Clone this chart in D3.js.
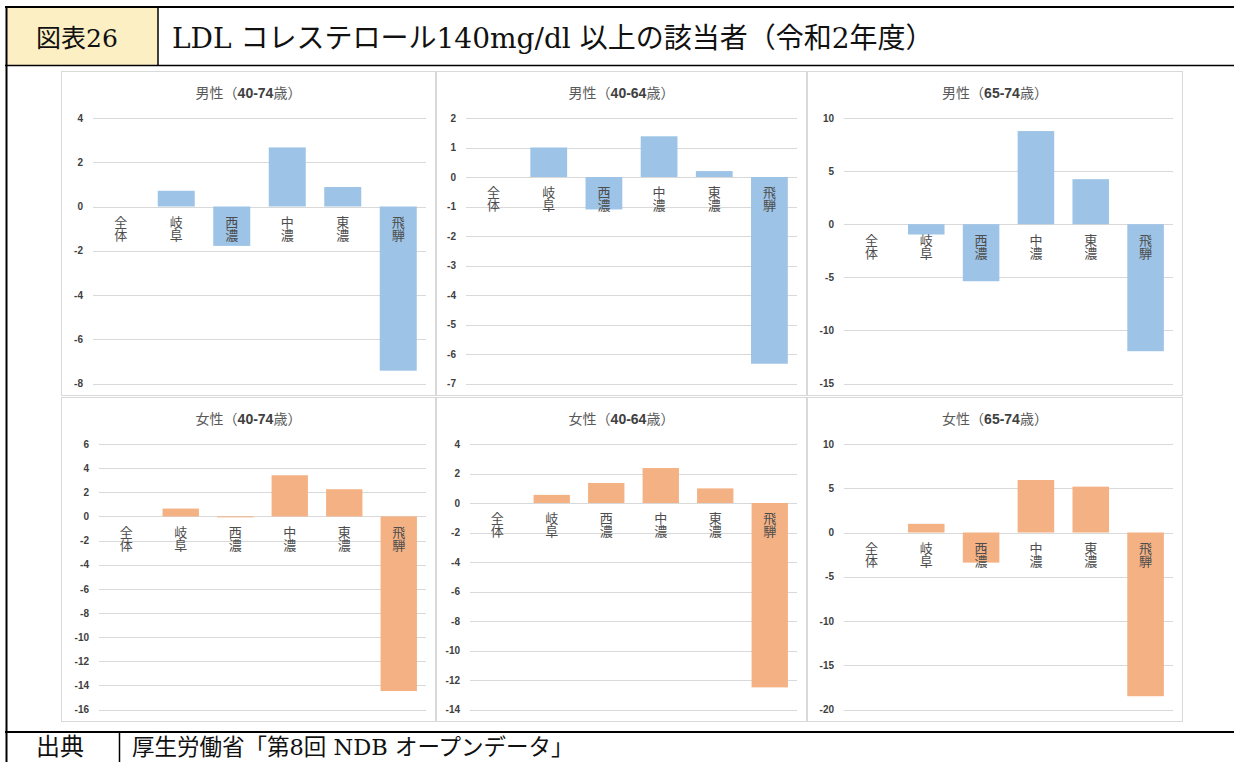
<!DOCTYPE html>
<html><head><meta charset="utf-8">
<script src="https://cdn.jsdelivr.net/npm/d3@7"></script>
<style>body{margin:0;background:#fff}</style>
</head><body>
<svg id="c" width="1234" height="762"></svg>
<script>
// ---------- data ----------
const categories = ["全体", "岐阜", "西濃", "中濃", "東濃", "飛騨"];
const panelTitles = ["男性（40-74歳）", "男性（40-64歳）", "男性（65-74歳）",
                     "女性（40-74歳）", "女性（40-64歳）", "女性（65-74歳）"];
const male4074   = [0, 0.71, -1.78, 2.67, 0.88, -7.42];
const male4064   = [0, 1.0, -1.1, 1.38, 0.2, -6.33];
const male6574   = [0, -0.97, -5.37, 8.77, 4.24, -11.96];
const female4074 = [0, 0.65, -0.08, 3.41, 2.25, -14.47];
const female4064 = [0, 0.55, 1.36, 2.37, 0.99, -12.5];
const female6574 = [0, 0.98, -3.4, 5.93, 5.18, -18.5];
const yDomains   = [[-8, 4], [-7, 2], [-15, 10], [-16, 6], [-14, 4], [-20, 10]];
const yTickSteps = [2, 1, 5, 2, 2, 5];
const headerLabel = "図表26";
const headerTitle = "LDL コレステロール140mg/dl 以上の該当者（令和2年度）";
const sourceLabel = "出典";
const sourceText  = "厚生労働省「第8回 NDB オープンデータ」";

const seriesList = [male4074, male4064, male6574, female4074, female4064, female6574];
const barColors = ["#9DC3E6", "#9DC3E6", "#9DC3E6", "#F4B183", "#F4B183", "#F4B183"];

// ---------- layout ----------
const svg = d3.select("#c");
const W = 1234, H = 762;
const jpFont = "'DejaVu Serif', 'Noto Sans CJK JP', serif";
const cjk = "'Noto Sans CJK JP', sans-serif";

// header / footer frame
svg.append("rect").attr("x", 7).attr("y", 8).attr("width", 151).attr("height", 57).attr("fill", "#FCEFC4");
const frame = svg.append("g").attr("stroke", "#000").attr("fill", "none");
frame.append("line").attr("x1", 5).attr("x2", W).attr("y1", 7).attr("y2", 7).attr("stroke-width", 2);
frame.append("line").attr("x1", 5).attr("x2", W).attr("y1", 65.5).attr("y2", 65.5).attr("stroke-width", 1.5);
frame.append("line").attr("x1", 6.5).attr("x2", 6.5).attr("y1", 6).attr("y2", H).attr("stroke-width", 2);
frame.append("line").attr("x1", 158).attr("x2", 158).attr("y1", 7).attr("y2", 66).attr("stroke-width", 1.5);
frame.append("line").attr("x1", 5).attr("x2", W).attr("y1", 732).attr("y2", 732).attr("stroke-width", 2);
frame.append("line").attr("x1", 119.5).attr("x2", 119.5).attr("y1", 732).attr("y2", H).attr("stroke-width", 1.5);

svg.append("text").attr("x", 36).attr("y", 47).attr("font-family", jpFont).attr("font-size", 25)
  .attr("fill", "#111").text(headerLabel);
svg.append("text").attr("x", 172).attr("y", 48).attr("font-family", jpFont).attr("font-size", 28)
  .attr("fill", "#111").text(headerTitle);
svg.append("text").attr("x", 36).attr("y", 755).attr("font-family", jpFont).attr("font-size", 24)
  .attr("fill", "#111").text(sourceLabel);
svg.append("text").attr("x", 132).attr("y", 755).attr("font-family", jpFont).attr("font-size", 22.5)
  .attr("fill", "#111").text(sourceText);

// panels
const panelX = [61, 436, 807], panelR = [436, 807, 1183];
const panelY = [71, 397], panelB = [396, 722];
const plotLeftOff = [32, 30, 37, 38, 34, 37];

seriesList.forEach((vals, i) => {
  const col = i % 3, row = Math.floor(i / 3);
  const px = panelX[col], py = panelY[row];
  const pw = panelR[col] - px, ph = panelB[row] - py;
  const g = svg.append("g");
  g.append("rect").attr("x", px + 0.5).attr("y", py + 0.5).attr("width", pw - 1).attr("height", ph - 1)
    .attr("fill", "#fff").attr("stroke", "#D9D9D9");

  const left = px + plotLeftOff[i], right = panelR[col] - 10;
  const top = py + 47, bottom = py + 312.5;
  const x = d3.scaleBand().domain(categories).range([left, right]).paddingInner(1/3).paddingOuter(1/6);
  const [d0, d1] = yDomains[i];
  const y = d3.scaleLinear().domain([d0, d1]).range([bottom, top]);
  const ticks = d3.range(d0, d1 + yTickSteps[i] / 2, yTickSteps[i]);

  // gridlines
  g.append("g").selectAll("line").data(ticks).join("line")
    .attr("x1", left).attr("x2", right)
    .attr("y1", d => Math.round(y(d)) + 0.5).attr("y2", d => Math.round(y(d)) + 0.5)
    .attr("stroke", "#D9D9D9").attr("stroke-width", 1);

  // y axis labels
  const ax = g.append("g").attr("transform", `translate(${left - 10},0)`)
    .call(d3.axisLeft(y).tickValues(ticks).tickSize(0).tickPadding(0).tickFormat(d => String(d)));
  ax.select(".domain").remove();
  ax.selectAll("text").attr("font-family", "'Liberation Sans', Arial, sans-serif")
    .attr("font-size", 10).attr("font-weight", "bold").attr("fill", "#404040");

  // bars
  g.append("g").selectAll("rect").data(vals).join("rect")
    .attr("x", (d, k) => x(categories[k]))
    .attr("width", x.bandwidth())
    .attr("y", d => y(Math.max(0, d)))
    .attr("height", d => Math.abs(y(d) - y(0)))
    .attr("fill", barColors[i]);

  // category labels (vertical writing)
  g.append("g").selectAll("text").data(categories).join("text")
    .attr("x", d => x(d) + x.bandwidth() / 2)
    .attr("y", y(0) + 9)
    .style("writing-mode", "vertical-rl")
    .attr("font-family", cjk).attr("font-size", 13).attr("fill", "#4D4D4D")
    .text(d => d);

  // panel title: CJK regular, digits bold
  const tt = g.append("text").attr("x", (px + panelR[col]) / 2).attr("y", py + 27)
    .attr("text-anchor", "middle").attr("font-family", cjk).attr("font-size", 14).attr("fill", "#595959");
  panelTitles[i].split(/([0-9\-]+)/).forEach(part => {
    if (!part) return;
    const isNum = /^[0-9\-]+$/.test(part);
    tt.append("tspan").attr("font-weight", isNum ? "bold" : "normal")
      .attr("font-family", isNum ? "'Liberation Sans', Arial, sans-serif" : cjk)
      .attr("fill", isNum ? "#404040" : "#595959").text(part);
  });
});
</script>
</body></html>
